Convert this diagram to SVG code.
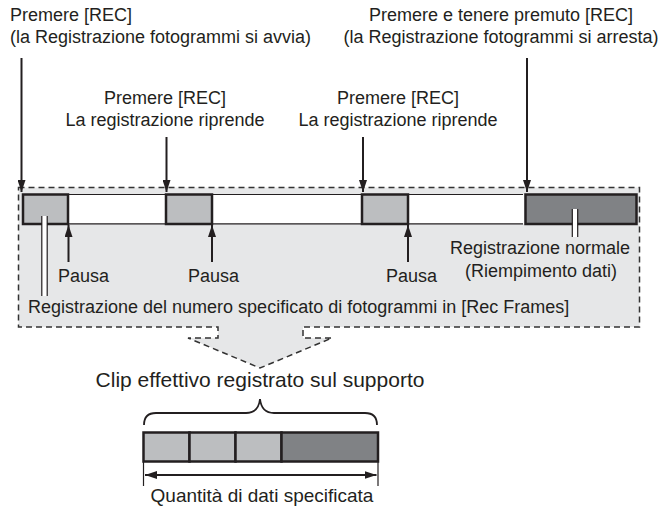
<svg xmlns="http://www.w3.org/2000/svg" width="663" height="506" viewBox="0 0 663 506">
<style>
.t{font-family:"Liberation Sans",Arial,sans-serif;font-size:18px;fill:#231f20}
.m{text-anchor:middle}
.ar{stroke:#231f20;stroke-width:2;fill:none}
.bx{fill:#bcbec0;stroke:#231f20;stroke-width:2.5}
.dk{fill:#808285;stroke:#231f20;stroke-width:2.5}
.thin{stroke:#231f20;stroke-width:1.2;fill:none}
</style>
<defs>
<marker id="ah" viewBox="0 0 12 8" refX="12" refY="4" markerWidth="12" markerHeight="8" orient="auto-start-reverse" markerUnits="userSpaceOnUse">
<path d="M0,0 L12,4 L0,8 z" fill="#231f20"/>
</marker>
</defs>
<rect width="663" height="506" fill="#ffffff"/>
<g id="region">
<path d="M18.5,187.5 H639.5 V327 H303 V338 H332 L260,368 L188,338 H218 V327 H18.5 Z" fill="#e6e7e8" stroke="#333" stroke-width="1.5" stroke-dasharray="6 4"/>
</g>
<g id="strip">
<rect x="22" y="194.5" width="502" height="29.5" fill="#ffffff"/>
<line class="thin" x1="22" y1="194.5" x2="523" y2="194.5"/>
<line class="thin" x1="22" y1="223.8" x2="523" y2="223.8"/>
</g>
<g id="frame1"><rect class="bx" x="23" y="194.5" width="45" height="29.5"/></g>
<g id="frame2"><rect class="bx" x="166" y="194.5" width="46" height="29.5"/></g>
<g id="frame3"><rect class="bx" x="362" y="194.5" width="46" height="29.5"/></g>
<g id="normal"><rect class="dk" x="525.5" y="194.5" width="111" height="29.5"/></g>
<g id="marks">
<rect x="42" y="216" width="5" height="80" fill="#ffffff"/>
<line class="thin" x1="41.8" y1="216" x2="41.8" y2="296"/>
<line class="thin" x1="47.2" y1="216" x2="47.2" y2="296"/>
<rect x="572.5" y="209" width="5" height="28" fill="#ffffff"/>
<line class="thin" x1="572.3" y1="209" x2="572.3" y2="237"/>
<line class="thin" x1="577.7" y1="209" x2="577.7" y2="237"/>
</g>
<g id="connectors">
<path class="ar" d="M21.5,58 V192" marker-end="url(#ah)"/>
<path class="ar" d="M166.5,137 V192" marker-end="url(#ah)"/>
<path class="ar" d="M363,137 V192" marker-end="url(#ah)"/>
<path class="ar" d="M527,58 V192" marker-end="url(#ah)"/>
<path class="ar" d="M68.5,262 V225" marker-end="url(#ah)"/>
<path class="ar" d="M212,262 V225" marker-end="url(#ah)"/>
<path class="ar" d="M408,262 V225" marker-end="url(#ah)"/>
<path class="ar" d="M145,475 H376.5" marker-start="url(#ah)" marker-end="url(#ah)"/>
<line class="thin" x1="143.5" y1="462" x2="143.5" y2="486"/>
<line class="thin" x1="378" y1="462" x2="378" y2="486"/>
<path d="M144,425 C144,417 148,413 156,413 H246 C254,413 259,408 260,399 C261,408 266,413 274,413 H365 C373,413 377,417 377,425" fill="none" stroke="#231f20" stroke-width="1.8"/>
</g>
<g id="clip">
<rect class="bx" x="143.5" y="432.5" width="46" height="29"/>
<rect class="bx" x="189.5" y="432.5" width="46" height="29"/>
<rect class="bx" x="235.5" y="432.5" width="46" height="29"/>
<rect class="dk" x="281.5" y="432.5" width="96.5" height="29"/>
</g>
<g id="labels">
<text class="t" x="10" y="21">Premere [REC]</text>
<text class="t" x="10" y="43">(la Registrazione fotogrammi si avvia)</text>
<text class="t m" x="165" y="104">Premere [REC]</text>
<text class="t m" x="165" y="126">La registrazione riprende</text>
<text class="t m" x="398" y="104">Premere [REC]</text>
<text class="t m" x="398" y="126">La registrazione riprende</text>
<text class="t m" x="501" y="21">Premere e tenere premuto [REC]</text>
<text class="t m" x="501" y="43">(la Registrazione fotogrammi si arresta)</text>
<text class="t" x="58" y="282">Pausa</text>
<text class="t" x="188" y="282">Pausa</text>
<text class="t" x="386" y="282">Pausa</text>
<text class="t m" x="540" y="254">Registrazione normale</text>
<text class="t m" x="541" y="277">(Riempimento dati)</text>
<text class="t" x="28" y="313">Registrazione del numero specificato di fotogrammi in [Rec Frames]</text>
<text class="t m" x="260" y="387" style="font-size:21px">Clip effettivo registrato sul supporto</text>
<text class="t m" x="262" y="502" style="font-size:19px">Quantità di dati specificata</text>
</g>
</svg>
